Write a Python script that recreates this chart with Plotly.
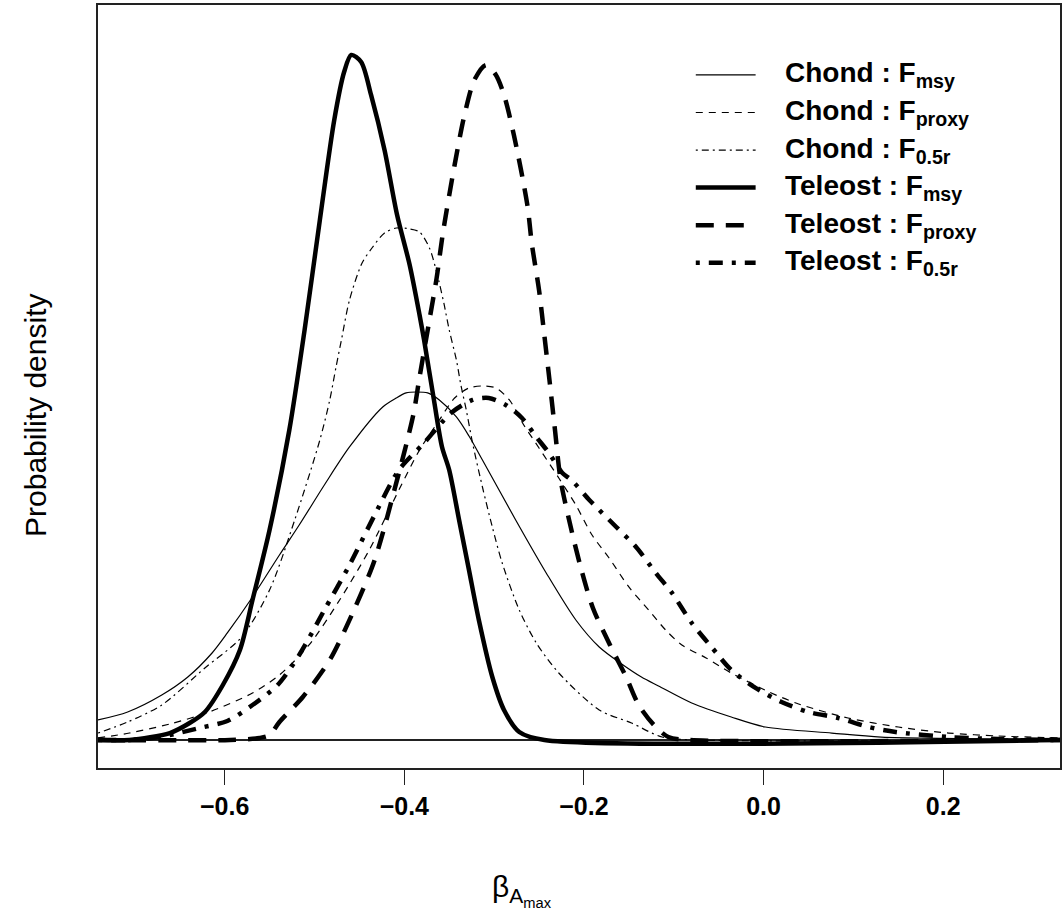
import plotly.graph_objects as go

# ---------------- data ----------------
x_tele_msy = [-0.741, -0.706, -0.661, -0.639, -0.622, -0.602, -0.583, -0.569, -0.550, -0.528,
              -0.511, -0.494, -0.478, -0.467, -0.459, -0.448, -0.437, -0.422, -0.408, -0.394,
              -0.383, -0.378, -0.367, -0.358, -0.350, -0.339, -0.328, -0.317, -0.302, -0.289,
              -0.272, -0.244, 0.330]
y_tele_msy = [0, 0, 0.080, 0.195, 0.322, 0.632, 1.034, 1.609, 2.414, 3.563,
              4.713, 5.977, 7.126, 7.678, 7.874, 7.793, 7.414, 6.782, 6.034, 5.460,
              4.885, 4.598, 3.908, 3.368, 3.103, 2.529, 1.954, 1.379, 0.724, 0.345,
              0.092, 0, 0]

x_tele_proxy = [-0.741, -0.594, -0.561, -0.550, -0.539, -0.513, -0.483, -0.456, -0.433, -0.411,
                -0.390, -0.383, -0.372, -0.364, -0.357, -0.344, -0.333, -0.322, -0.309, -0.298,
                -0.289, -0.278, -0.263, -0.258, -0.250, -0.244, -0.238, -0.232, -0.226, -0.216,
                -0.204, -0.190, -0.171, -0.153, -0.139, -0.122, -0.106, -0.083, 0.330]
y_tele_proxy = [0, 0, 0.023, 0.057, 0.207, 0.494, 0.920, 1.494, 2.069, 2.874,
                3.736, 4.172, 4.828, 5.310, 5.828, 6.609, 7.184, 7.586, 7.759, 7.644,
                7.414, 6.954, 6.149, 5.701, 5.172, 4.644, 4.103, 3.540, 2.989, 2.506,
                2.000, 1.517, 1.092, 0.724, 0.402, 0.172, 0.034, 0, 0]

x_tele_05r = [-0.741, -0.706, -0.672, -0.628, -0.597, -0.569, -0.541, -0.517, -0.489, -0.461,
              -0.433, -0.406, -0.378, -0.348, -0.324, -0.306, -0.287, -0.269, -0.253, -0.239,
              -0.224, -0.214, -0.194, -0.183, -0.164, -0.142, -0.120, -0.102, -0.080, -0.058,
              -0.036, -0.009, 0.020, 0.050, 0.083, 0.117, 0.147, 0.206, 0.261, 0.330]
y_tele_05r = [0, 0, 0.034, 0.138, 0.218, 0.402, 0.632, 0.977, 1.494, 2.011,
              2.586, 3.103, 3.414, 3.759, 3.908, 3.931, 3.851, 3.701, 3.483, 3.299,
              3.069, 2.989, 2.759, 2.644, 2.448, 2.218, 1.920, 1.690, 1.345, 1.069,
              0.805, 0.598, 0.437, 0.322, 0.253, 0.149, 0.092, 0.034, 0.011, 0]

x_chond_msy = [-0.741, -0.708, -0.670, -0.641, -0.614, -0.597, -0.569, -0.539, -0.517, -0.489,
               -0.461, -0.424, -0.409, -0.398, -0.387, -0.374, -0.361, -0.342, -0.328, -0.313,
               -0.276, -0.242, -0.209, -0.183, -0.158, -0.136, -0.117, -0.080, -0.036, 0.002,
               0.076, 0.131, 0.330]
y_chond_msy = [0.230, 0.322, 0.517, 0.724, 1.000, 1.230, 1.644, 2.126, 2.471, 2.931,
               3.368, 3.828, 3.931, 3.989, 4.000, 3.989, 3.908, 3.713, 3.494, 3.218,
               2.529, 1.920, 1.379, 1.069, 0.874, 0.724, 0.621, 0.425, 0.264, 0.149,
               0.080, 0.034, 0.011]

x_chond_proxy = [-0.741, -0.706, -0.661, -0.617, -0.569, -0.539, -0.506, -0.472, -0.439, -0.406,
                 -0.383, -0.361, -0.344, -0.328, -0.313, -0.298, -0.283, -0.267, -0.250, -0.228,
                 -0.209, -0.191, -0.172, -0.150, -0.128, -0.109, -0.091, -0.064, -0.036, 0.006,
                 0.039, 0.094, 0.150, 0.206, 0.261, 0.330]
y_chond_proxy = [0.023, 0.080, 0.184, 0.322, 0.540, 0.747, 1.092, 1.609, 2.184, 2.874,
                 3.333, 3.678, 3.931, 4.046, 4.069, 4.046, 3.908, 3.621, 3.356, 3.011,
                 2.701, 2.356, 2.092, 1.759, 1.494, 1.264, 1.092, 0.943, 0.770, 0.552,
                 0.414, 0.253, 0.149, 0.080, 0.046, 0.023]

x_chond_05r = [-0.741, -0.708, -0.670, -0.622, -0.581, -0.550, -0.522, -0.494, -0.483, -0.476,
               -0.470, -0.461, -0.447, -0.436, -0.422, -0.409, -0.394, -0.383, -0.372, -0.364,
               -0.356, -0.350, -0.342, -0.337, -0.331, -0.324, -0.313, -0.302, -0.291, -0.272,
               -0.253, -0.228, -0.183, -0.147, -0.113, -0.072, 0.330]
y_chond_05r = [0.080, 0.207, 0.402, 0.828, 1.184, 1.724, 2.529, 3.448, 3.908, 4.287,
               4.598, 5.057, 5.483, 5.655, 5.828, 5.885, 5.874, 5.839, 5.655, 5.379,
               5.023, 4.713, 4.368, 4.080, 3.793, 3.414, 2.908, 2.448, 2.034, 1.494,
               1.115, 0.770, 0.345, 0.195, 0.034, 0, 0]

tick_vals = [-0.6, -0.4, -0.2, 0.0, 0.2]
tick_text = ["\u22120.6", "\u22120.4", "\u22120.2", "0.0", "0.2"]

series_names = [
    "Chond : F<sub>msy</sub>",
    "Chond : F<sub>proxy</sub>",
    "Chond : F<sub>0.5r</sub>",
    "Teleost : F<sub>msy</sub>",
    "Teleost : F<sub>proxy</sub>",
    "Teleost : F<sub>0.5r</sub>",
]

# ---------------- figure ----------------
FONT = "Liberation Sans, Arial, sans-serif"
series = [
    (x_chond_msy, y_chond_msy, 1.2, "solid"),
    (x_chond_proxy, y_chond_proxy, 1.2, "7px,6px"),
    (x_chond_05r, y_chond_05r, 1.2, "2px,4px,7px,4px"),
    (x_tele_msy, y_tele_msy, 4.5, "solid"),
    (x_tele_proxy, y_tele_proxy, 4.5, "18px,12px"),
    (x_tele_05r, y_tele_05r, 4.5, "4px,9px,14px,9px"),
]

fig = go.Figure()
shapes = []
annotations = []

# manual legend geometry (paper coords of the plot area)
leg_x0, leg_x1, leg_tx = 0.6214, 0.6836, 0.7120
leg_y0, leg_dy = 0.9083, 0.0492

for i, (xs, ys, w, d) in enumerate(series):
    fig.add_trace(go.Scatter(
        x=xs, y=ys, mode="lines", name=series_names[i], showlegend=False,
        line=dict(color="black", width=w, dash=d, shape="spline", smoothing=0.8),
    ))
    ly = leg_y0 - i * leg_dy
    shapes.append(dict(type="line", xref="paper", yref="paper",
                       x0=leg_x0, x1=leg_x1, y0=ly, y1=ly,
                       line=dict(color="black", width=w, dash=d)))
    annotations.append(dict(text=series_names[i], xref="paper", yref="paper",
                            x=leg_tx, y=ly, xanchor="left", yanchor="middle",
                            showarrow=False,
                            font=dict(family=FONT, size=28, color="black", weight="bold")))

annotations += [
    dict(text="Probability density", xref="paper", yref="paper",
         x=-0.065, y=0.462, xanchor="center", yanchor="middle",
         textangle=-90, showarrow=False,
         font=dict(family=FONT, size=30, color="black")),
    dict(text="\u03b2<sub>A<sub>max</sub></sub>", xref="paper", yref="paper",
         x=0.441, y=-0.160, xanchor="center", yanchor="middle",
         showarrow=False, font=dict(family=FONT, size=30, color="black")),
]

fig.update_layout(
    width=1063, height=918,
    margin=dict(l=98, r=1, t=5, b=150),
    paper_bgcolor="white", plot_bgcolor="white",
    font=dict(family=FONT, color="black"),
    showlegend=False,
    xaxis=dict(
        range=[-0.741, 0.330], showgrid=False, zeroline=False,
        showline=True, linecolor="#222", linewidth=1.5, mirror=True,
        ticks="outside", ticklen=15, tickwidth=1.2, tickcolor="#222",
        tickvals=tick_vals, ticktext=tick_text,
        tickfont=dict(family=FONT, size=25, color="black", weight="bold"),
    ),
    yaxis=dict(
        range=[-0.322, 8.448], showgrid=False,
        zeroline=True, zerolinecolor="#222", zerolinewidth=1.5,
        showline=True, linecolor="#222", linewidth=1.5, mirror=True,
        showticklabels=False, ticks="",
    ),
    shapes=shapes,
    annotations=annotations,
)

fig.write_html("out.html")
